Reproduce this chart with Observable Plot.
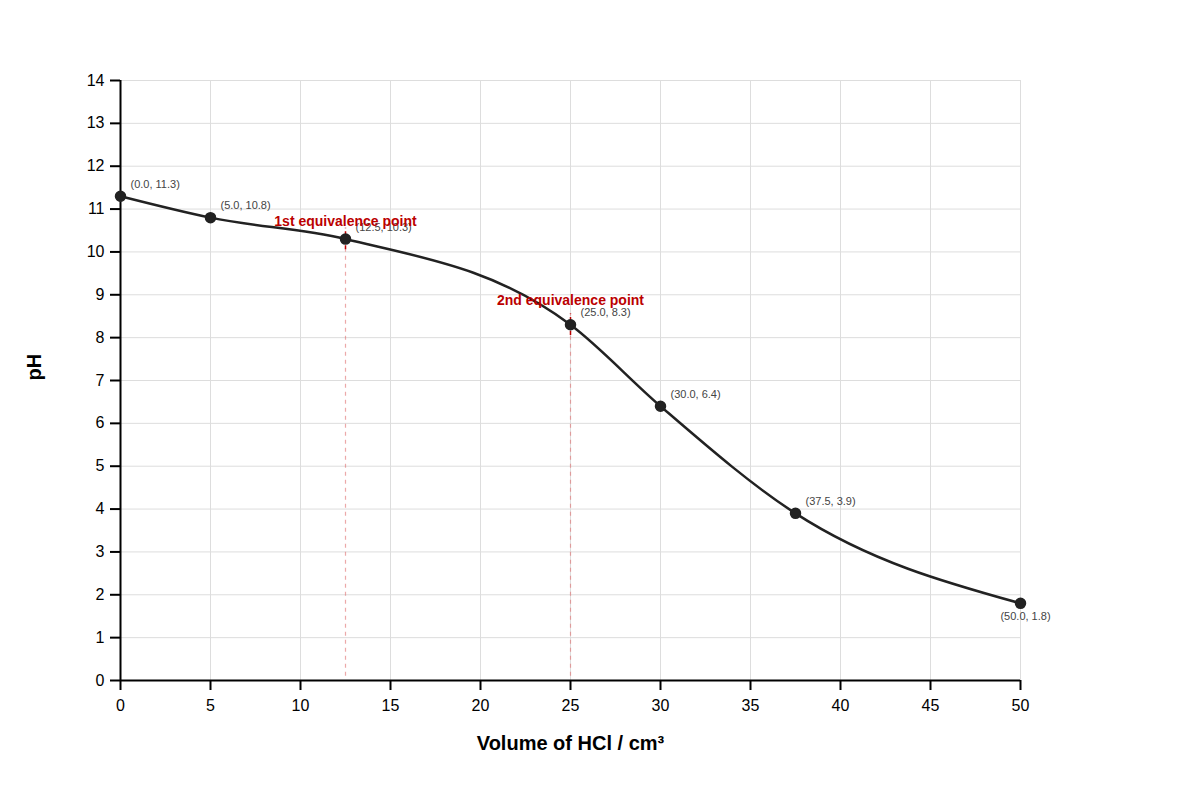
<!DOCTYPE html>
<html>
<head>
<meta charset="utf-8">
<script src="https://cdn.jsdelivr.net/npm/d3@7"></script>
<script src="https://cdn.jsdelivr.net/npm/@observablehq/plot@0.6"></script>
<style>
  html, body { margin: 0; padding: 0; background: #fff; }
</style>
</head>
<body>
<div id="chart"></div>
<script>
const volumes = [0, 5, 12.5, 25, 30, 37.5, 50];
const pHValues = [11.3, 10.8, 10.3, 8.3, 6.4, 3.9, 1.8];
const eqVolumes = [12.5, 25];
const eqPH = [10.3, 8.3];
const eqLabels = ["1st equivalence point", "2nd equivalence point"];
const xTicks = [0, 5, 10, 15, 20, 25, 30, 35, 40, 45, 50];
const yTicks = [0, 1, 2, 3, 4, 5, 6, 7, 8, 9, 10, 11, 12, 13, 14];
const xTitle = "Volume of HCl / cm³";
const yTitle = "pH";

const pts = volumes.map((v, i) => ({v, pH: pHValues[i]}));
const eq = eqVolumes.map((v, i) => ({v, pH: eqPH[i], label: eqLabels[i]}));
const fmt = d3.format(".1f");
const lab = d => `(${fmt(d.v)}, ${fmt(d.pH)})`;
const last = pts.length - 1;
const red = "#bb0000";

const chart = Plot.plot({
  width: 1200,
  height: 800,
  marginLeft: 120,
  marginRight: 180,
  marginTop: 80,
  marginBottom: 120,
  style: {fontFamily: "'Liberation Sans', Arial, sans-serif", fontSize: "16px", background: "#fff"},
  x: {domain: [0, 50]},
  y: {domain: [0, 14]},
  marks: [
    Plot.gridX(xTicks, {stroke: "#dddddd", strokeOpacity: 1, strokeWidth: 1}),
    Plot.gridY(yTicks, {stroke: "#dddddd", strokeOpacity: 1, strokeWidth: 1}),
    Plot.ruleX(eq, {x: "v", y1: 0.1, y2: d => d.pH + 0.25, stroke: "#e07070", strokeOpacity: 0.6, strokeDasharray: "4,4", strokeWidth: 1.2}),
    Plot.ruleX(eq, {x: "v", y1: d => d.pH - 0.25, y2: d => d.pH + 0.25, stroke: red, strokeWidth: 1.5, strokeDasharray: "4,3"}),
    Plot.axisX(xTicks, {tickSize: 10, tickPadding: 9, fontSize: 16, stroke: "#000", strokeWidth: 2, fill: "#000", label: null}),
    Plot.axisY(yTicks, {tickSize: 10, tickPadding: 6, fontSize: 16, stroke: "#000", strokeWidth: 2, fill: "#000", label: null}),
    Plot.ruleY([0], {stroke: "#000", strokeWidth: 2}),
    Plot.ruleX([0], {stroke: "#000", strokeWidth: 2}),
    Plot.line(pts, {x: "v", y: "pH", curve: "monotone-x", stroke: "#222", strokeWidth: 2.5}),
    Plot.dot(pts, {x: "v", y: "pH", r: 5, fill: "#222", stroke: "#222"}),
    Plot.text(pts.slice(0, last), {x: "v", y: "pH", text: lab, dx: 10, dy: -12, textAnchor: "start", fontSize: 11, fill: "#444"}),
    Plot.text(pts.slice(last), {x: "v", y: "pH", text: lab, dx: 5, dy: 13, textAnchor: "middle", fontSize: 11, fill: "#444"}),
    Plot.text(eq.slice(0, 1), {x: "v", y: "pH", text: "label", dy: -18, textAnchor: "middle", fontSize: 14, fontWeight: "bold", fill: red}),
    Plot.text(eq.slice(1, 2), {x: "v", y: "pH", text: "label", dy: -24, textAnchor: "middle", fontSize: 14, fontWeight: "bold", fill: red}),
    Plot.text([xTitle], {frameAnchor: "bottom", dy: 69, fontSize: 20, fontWeight: "bold", fill: "#000"}),
    Plot.text([yTitle], {frameAnchor: "left", dx: -86, rotate: -90, fontSize: 20, fontWeight: "bold", fill: "#000"})
  ]
});
document.getElementById("chart").appendChild(chart);
</script>
</body>
</html>
